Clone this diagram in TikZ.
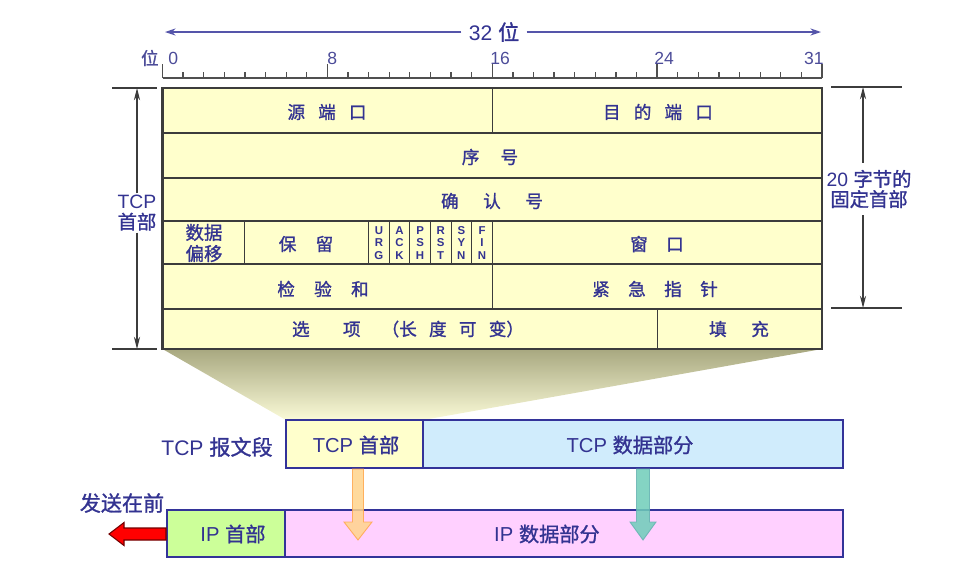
\documentclass[tikz,border=0pt]{standalone}
\usepackage{fontspec}
\setmainfont{Liberation Sans}
\newfontfamily\cjk[FakeBold=1.2]{Noto Sans CJK SC}
\usetikzlibrary{arrows.meta}
\definecolor{navy}{RGB}{51,51,145}
\definecolor{boxline}{RGB}{51,51,153}
\definecolor{rulerblue}{RGB}{85,85,170}
\definecolor{tabfill}{RGB}{255,255,204}
\definecolor{tabline}{RGB}{60,60,60}
\definecolor{conetop}{RGB}{168,168,128}
\definecolor{conebot}{RGB}{250,250,215}
\definecolor{tcpblue}{RGB}{208,236,252}
\definecolor{ipgreen}{RGB}{204,255,153}
\definecolor{ippink}{RGB}{255,208,255}
\definecolor{orangearr}{RGB}{255,212,140}
\definecolor{tealarr}{RGB}{110,205,185}
\newcommand\gp[1]{\hspace{#1em}}
\begin{document}
\begin{tikzpicture}[x=0.02cm,y=-0.02cm,
  tabtext/.style={text=navy, font=\cjk\fontsize{10}{12}\selectfont, inner sep=0pt},
  flagtext/.style={text=navy, font=\bfseries\fontsize{6.5}{6.9}\selectfont, align=center, inner sep=0pt},
  rulerline/.style={draw=tabline!90, line width=0.75pt},
  rulerlabel/.style={text=rulerblue!90!black, font=\fontsize{10}{12}\selectfont, inner sep=0pt},
  thinline/.style={draw=tabline, line width=0.6pt},
  outerline/.style={draw=tabline, line width=1.2pt},
  dimline/.style={draw=tabline, line width=0.6pt},
  dimarrow/.style={dimline, -{Stealth[length=7pt,width=3.5pt]}},
  toparrow/.style={draw=rulerblue, line width=0.8pt, -{Stealth[length=6pt,width=4pt]}},
  dimtext/.style={text=navy, font=\fontsize{11}{11.5}\selectfont, align=center},
  pkt/.style={draw=boxline, line width=1.1pt, inner sep=0pt},
  pkttext/.style={text=navy, font=\fontsize{11.5}{13}\selectfont, inner sep=0pt},
]
\useasboundingbox (0,0) rectangle (972,576);

% ---- top "32 位" arrow
\node[text=navy, font=\fontsize{12}{14}\selectfont, inner sep=4pt] (bits) at (494,32) {32 {\cjk 位}};
\coordinate (bl) at (165,32);
\coordinate (br) at (821,32);
\draw[toparrow] (bits) -- (bl);
\draw[toparrow] (bits) -- (br);

% ---- ruler
\draw[rulerline] (162.5,78) -- (822,78);
\foreach \i in {0,...,32} \draw[rulerline] ({162.5+\i*20.61},78) -- ({162.5+\i*20.61},72);
\foreach \i in {0,8,16,24,32} \draw[rulerline] ({162.5+\i*20.61},78) -- ({162.5+\i*20.61},64);
\node[rulerlabel, anchor=east] (wei) at (159,58) {\cjk 位};
\node[rulerlabel, anchor=west] (b0) at (168,58) {0};
\node[rulerlabel, anchor=west] (b8) at (327,58) {8};
\node[rulerlabel, anchor=west] (b16) at (490,58) {16};
\node[rulerlabel, anchor=west] (b24) at (654,58) {24};
\node[rulerlabel, anchor=east] (b31) at (824,58) {31};

% ---- cone
\shade[top color=conetop, bottom color=conebot] (162.5,349) -- (822,349) -- (423,420) -- (286,420) -- cycle;

% ---- header table
\fill[tabfill] (162.5,88) rectangle (822,349);
\foreach \y in {133,178,221,264,309} \draw[thinline] (162.5,\y) -- (822,\y);
\draw[thinline] (492.3,88) -- (492.3,133);
\foreach \b in {4,10,11,12,13,14,15,16} \draw[thinline] ({162.5+\b*20.61},221) -- ({162.5+\b*20.61},264);
\draw[thinline] (492.3,264) -- (492.3,309);
\draw[thinline] (657.1,309) -- (657.1,349);
\draw[outerline] (162.5,88) rectangle (822,349);

\node[tabtext] (srcport) at (327,112) {源\gp{.75}端\gp{.75}口};
\node[tabtext] (dstport) at (658,112) {目\gp{.75}的\gp{.75}端\gp{.75}口};
\node[tabtext] (seq) at (490,157) {序\gp{1.2}号};
\node[tabtext] (ackno) at (492,201) {确\gp{1.4}认\gp{1.4}号};
\node[tabtext, align=center, font=\cjk\fontsize{10.5}{12}\selectfont] (doff) at (204,243) {数据\\偏移};
\node[tabtext] (rsv) at (306,244) {保\gp{1.1}留};
\node[flagtext] (urg) at (378.9,243) {U\\R\\G};
\node[flagtext] (ack) at (399.5,243) {A\\C\\K};
\node[flagtext] (psh) at (420.1,243) {P\\S\\H};
\node[flagtext] (rst) at (440.7,243) {R\\S\\T};
\node[flagtext] (syn) at (461.3,243) {S\\Y\\N};
\node[flagtext] (fin) at (482.0,243) {F\\I\\N};
\node[tabtext] (win) at (657,244) {窗\gp{1.05}口};
\node[tabtext] (csum) at (323,289) {检\gp{1.1}验\gp{1.1}和};
\node[tabtext] (urgp) at (655,289) {紧\gp{1.05}急\gp{1.05}指\gp{1.05}针};
\node[tabtext] (opts) at (408,329) {选\gp{1.9}项\gp{1.2}（长\gp{.7}度\gp{.7}可\gp{.7}变）};
\node[tabtext] (pad) at (739,329) {填\gp{1.4}充};

% ---- left dimension
\draw[dimline] (112,88) -- (157,88);
\draw[dimline] (112,349) -- (157,349);
\coordinate (ltop) at (137,88);
\coordinate (lbot) at (137,349);
\node[dimtext, inner sep=1pt] (tcphdrlbl) at (137,213) {TCP\\{\cjk 首部}};
\draw[dimarrow] (tcphdrlbl) -- (ltop);
\draw[dimarrow] (tcphdrlbl) -- (lbot);

% ---- right dimension
\draw[dimline] (831,87) -- (902,87);
\draw[dimline] (831,308) -- (902,308);
\coordinate (rtop) at (863,87);
\coordinate (rbot) at (863,308);
\node[dimtext, inner sep=4pt] (fixlbl) at (869,189) {20 {\cjk 字节的}\\{\cjk 固定首部}};
\draw[dimarrow] (fixlbl.north -| rtop) -- (rtop);
\draw[dimarrow] (fixlbl.south -| rbot) -- (rbot);

% ---- segment boxes
\node[pkt, fill=tabfill, minimum width=2.74cm, minimum height=0.96cm] (tcph) at (354.5,444) {};
\node[pkt, fill=tcpblue, minimum width=8.4cm, minimum height=0.96cm] (tcpd) at (633,444) {};
\node[pkttext] (tcpht) at (356,445) {TCP {\cjk 首部}};
\node[pkttext] (tcpdt) at (630,445) {TCP {\cjk 数据部分}};
\node[pkttext, anchor=east, font=\fontsize{12}{14}\selectfont] (seg) at (273,447) {TCP {\cjk 报文段}};

% ---- datagram boxes
\node[pkt, fill=ipgreen, minimum width=2.36cm, minimum height=0.94cm] (iph) at (226,533.5) {};
\node[pkt, fill=ippink, minimum width=11.16cm, minimum height=0.94cm] (ipd) at (564,533.5) {};
\node[pkttext] (ipht) at (233,534) {IP {\cjk 首部}};
\node[pkttext] (ipdt) at (547,534) {IP {\cjk 数据部分}};
\node[pkttext, font=\cjk\fontsize{12}{14}\selectfont] (send) at (122,503) {发送在前};

% ---- fat arrows
\filldraw[fill=orangearr, draw=orange!70!white, line width=0.5pt, opacity=0.85]
  (352.5,469) -- (363.5,469) -- (363.5,522) -- (372,522) -- (358,540) -- (344,522) -- (352.5,522) -- cycle;
\filldraw[fill=tealarr, draw=teal!60!white, line width=0.5pt, opacity=0.85]
  (636.5,469) -- (649.5,469) -- (649.5,522) -- (656,522) -- (643,540) -- (630,522) -- (636.5,522) -- cycle;
\filldraw[fill=red, draw=red!45!black, line width=0.6pt]
  (166,528) -- (124,528) -- (124,522.5) -- (109,534) -- (124,545.5) -- (124,540) -- (166,540) -- cycle;
\end{tikzpicture}
\end{document}
